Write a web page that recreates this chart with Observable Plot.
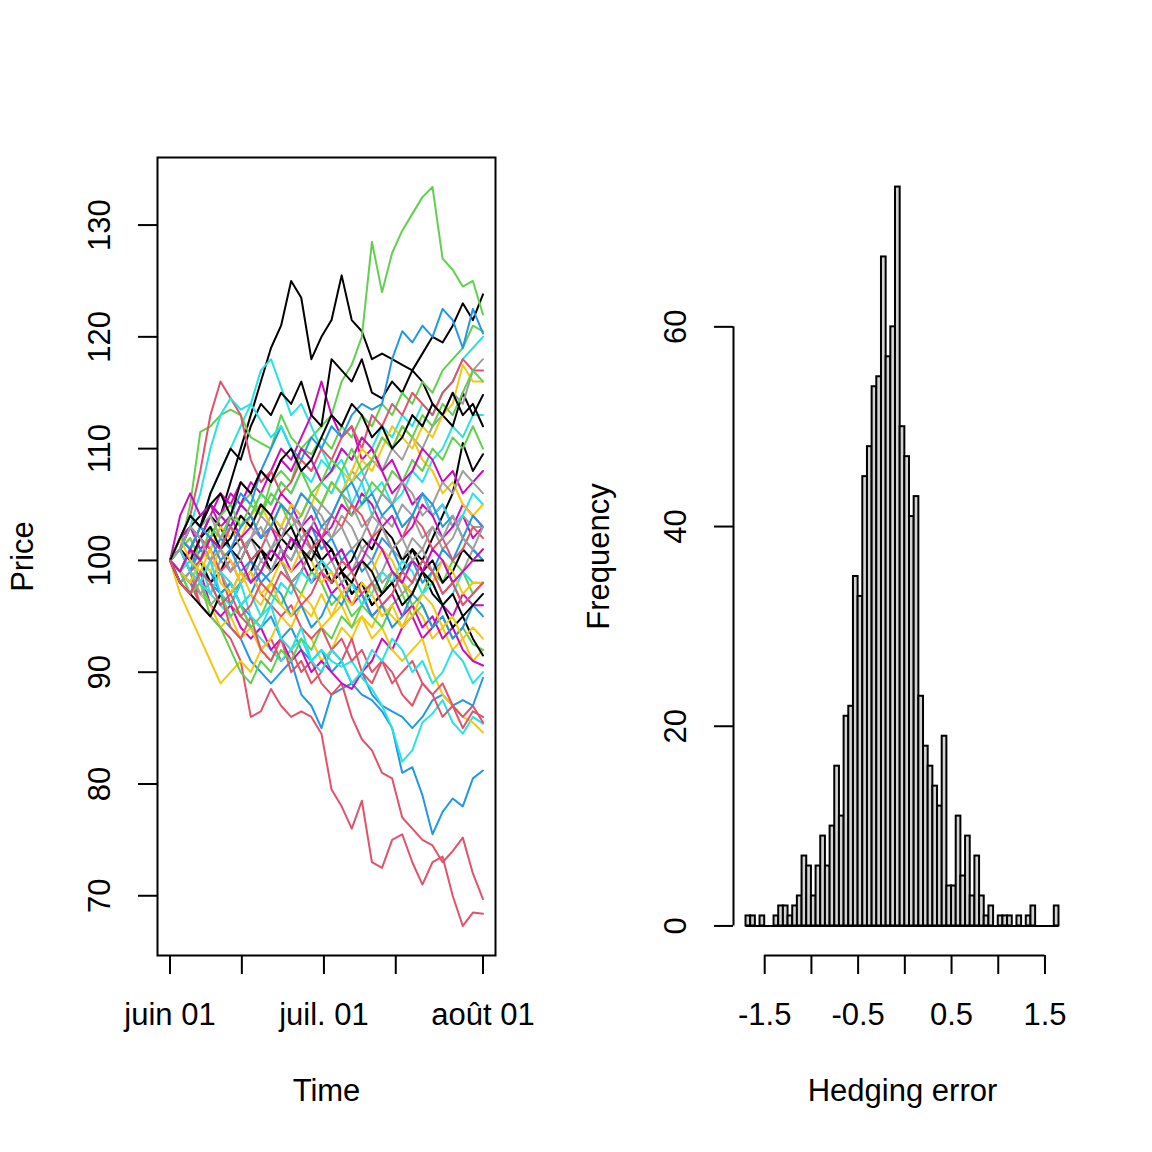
<!DOCTYPE html>
<html><head><meta charset="utf-8">
<script src="https://cdn.jsdelivr.net/npm/d3@7"></script>
<script src="https://cdn.jsdelivr.net/npm/@observablehq/plot@0.6"></script>
<style>
html,body{margin:0;padding:0;background:#fff;}
#wrap{display:flex;width:1152px;height:1152px;background:#fff;}
</style></head><body><div id="wrap"></div>
<script>
// ---------- Left panel data: simulated price paths ----------
const palette = ["black", "#DF536B", "#61D04F", "#2297E6", "#28E2E5", "#CD0BBC", "#F5C710", "#9E9E9E"];
const startDate = "2023-06-01", endDate = "2023-08-01";
const xTickDates = ["2023-06-01", "2023-06-15", "2023-07-01", "2023-07-15", "2023-08-01"];
const xTickLabels = ["juin 01", "", "juil. 01", "", "août 01"];
const priceTicks = [70, 80, 90, 100, 110, 120, 130];

const pathsBlack = [
  [100,102,103,104,105,104,107,110,113,116,119,121,125,123.5,118,120,121.5,125.5,121.5,120.5,118,118.5,118,117.5,117,118.5,120,119.5,121,123,121.5,123.8],
  [100,102,104,103,106,108,110,109,112,114,113,115,114,116,113,112,118,117,116,118,115,114.5,116,115,117,116,114,113,112,115,113,114.8],
  [100,99,101,100,98,99,101,100,102,101,99,100,98,99,101,100,98,99,97,98,96,97,98,99,101,100,102,104,106,110.5,108,109.5],
  [100,101,103,102,104,103,101,102,100,101,99,100,102,101,99,100,98,99,97,98,96,97,99,98,97,99,97,96,94,95,93,91.5],
  [100,98,97,96,95,97,96,98,99,101,100,102,101,103,102,100,101,99,100,102,101,103,102,100,101,99,100,98,99,101,100,100],
  [100,101,100,102,103,101,102,104,103,105,104,102,103,101,100,102,101,99,98,100,99,97,98,96,97,99,98,96,97,95,96,97],
  [100,102,104,103,105,106,104,107,106,108,107,109,110,108,109,111,113,112,114,113,111,112,110,111,113,112,114,113,115,113,114,112]
];
const pathsRed = [
  [100,99,98,96,95,94,93,91,86,86.5,88.5,87,86,86.5,86,84.5,79.5,78,76,78.5,73,72.5,75,75.5,73,71,73,73.5,70,67.3,68.5,68.4],
  [100,99,101,98,97,99,96,95,94,92,93,91,92,90,91,89,88,89,86,84,83,81,80.5,77,76,75,74.5,73,74,75.2,72,69.7],
  [100,98,99,96,95,97,94,93,95,92,91,93,90,91,89,90,92,91,93,90,89,91,90,88,87,89,88,86,87,85,86.5,86],
  [100,102,104,108,113,116,114.5,113,109,107,108,106,107,109,108,110,109,111,112,110,113,112,114,113,115,114,113,115,116,118,117,117],
  [100,101,100,102,101,99,100,98,99,97,96,95,96,94,93,94,92,93,91,92,90,91,89,90,91,89,88,89,87,86,87,85.5],
  [100,101,99,100,102,101,103,102,100,101,103,102,104,103,101,102,104,103,105,104,102,103,101,102,104,103,101,102,100,101,103,102],
  [100,98,97,99,98,96,97,95,96,98,97,99,98,96,97,99,98,100,99,97,98,96,97,99,98,100,99,97,98,96,97,98]
];
const pathsGreen = [
  [100,99,101,100,102,104,103,105,106,104,107,108,107,110,111,112,113,116,117.5,120,128.5,124,127.5,129.5,131,132.5,133.4,127,126,124.5,125,122],
  [100,101,105,111.5,112,113,113.5,113,111,110.5,110,113,111,110,109.5,111,110,112,111,113,112,114,113,115,114,116,115,117,118,119,121,120.5],
  [100,99,97,98,95,94,92,90,89,91,90,92,91,93,92,94,93,95,94,96,95,94,96,97,95,96,94,95,93,94,92.5,92],
  [100,99,97,98,96,97,95,96,94,95,97,96,98,97,99,98,96,97,95,96,98,97,99,98,96,97,99,98,100,99,97,98],
  [100,101,102,100,103,102,104,103,105,104,106,105,103,104,106,105,107,106,104,105,107,106,108,107,109,108,110,109,111,110,112,110],
  [100,102,101,103,102,104,105,103,104,106,105,107,106,108,106,107,109,108,110,108,109,111,110,112,111,113,112,114,113,115,117,116]
];
const pathsBlue = [
  [100,99,98,97,96,95,94,93,91,90,89,90,91,88,87,85,88,88.5,89,88,87.5,86.5,85,81,81.5,79,75.5,77.5,78.7,78,80.5,81.2],
  [100,101,99,100,98,97,98,96,95,94,95,93,94,92,91,92,90,91,89,90,88,87,86.5,86,85,86,87.5,88,87,87.5,87,89.5],
  [100,101,99,102,103,101,104,106,105,108,110,112,110,109,111,110,112,111,113,114,113.5,114,118,120.5,119.5,121,120,122.5,121.5,119,122.5,120.3],
  [100,98,99,101,100,102,101,99,100,98,99,101,100,102,103,101,102,100,101,99,100,102,101,99,100,98,99,101,100,102,101,100],
  [100,99,98,100,99,97,98,96,97,99,98,97,95,96,94,95,97,96,98,97,95,96,94,95,97,96,94,95,93,94,96,95],
  [100,102,101,103,102,100,101,103,104,102,103,105,104,106,105,103,104,106,107,105,106,104,105,103,104,106,105,103,104,102,104,103]
];
const pathsCyan = [
  [100,102,104,103,106,108,110,112,114,117,118,115.5,113,114,112,110,108,109,107,108,106,107,105,106,108,107,109,110,112,111,113,113],
  [100,99,98,100,97,96,95,96,94,93,92,91,92,93,91,92,91,90.5,91,89.5,88.5,87,85,82,83,85.5,86.3,87.5,85.5,84.5,86,85.4],
  [100,99,101,103,102,104,103,105,104,106,105,107,106,108,107,109,108,110,109,111,110,112,111,113,112,114,113,115,116,118,119,120],
  [100,101,103,106,110,113,114.5,113.5,114,112.5,111,112,110,108,109,107,106,108,105,107,104,106,105,103,104,106,104,105,103,104,106,105],
  [100,99,100,98,97,99,98,96,97,95,96,98,97,99,98,100,99,97,98,96,97,99,98,100,99,97,98,96,97,99,98,98],
  [100,101,99,98,100,97,96,98,95,94,96,93,92,94,91,90,92,91,89,90,92,91,93,92,90,91,89,90,92,91,89,90]
];
const pathsMagenta = [
  [100,102,101,103,105,104,106,105,107,106,108,110,109,111,113,116,113,111,112,109,110,108,106,107,105,106,104,105,103,104,102,103],
  [100,98,97,99,96,95,96,94,93,94,92,93,91,92,90,91,90,89,88.5,90,91,93,92,94,95,93,94,96,95,97,96,96],
  [100,102,103,101,102,104,103,105,104,102,103,101,99,100,98,99,97,98,96,97,95,96,97,95,96,94,95,93,94,92,91,90.6],
  [100,104,106,104,105,103,104,102,103,105,104,106,105,103,104,102,103,105,104,106,105,103,104,102,103,105,104,102,103,105,104,103],
  [100,101,103,102,104,106,105,107,106,108,107,109,108,110,109,107,108,110,109,111,110,108,109,107,108,110,109,107,108,106,107,108],
  [100,99,101,100,102,101,99,100,98,99,101,100,102,101,103,102,100,101,99,100,102,101,99,98,100,99,101,100,98,99,100,101]
];
const pathsYellow = [
  [100,97,95,93,91,89,90,91,90,92,91,93,92,94,93,91,92,94,93,95,94,96,95,94,96,95,93,94,92,93,91,92],
  [100,98,99,97,96,94,95,93,94,92,93,95,94,96,95,97,95,96,94,95,93,94,92,91,92,93,90,88,87,86,85.5,84.6],
  [100,99,101,100,102,101,103,102,104,105,103,105,104,106,105,107,106,108,107,109,108,110,112,111,110,112,111,113,114,117.5,116,116],
  [100,101,102,100,101,103,102,104,103,105,104,103,105,104,106,105,107,106,108,110,109,111,110,112,111,109,108,106,107,105,104,105],
  [100,99,98,100,99,101,100,98,99,97,98,100,99,101,100,98,99,97,98,100,99,101,100,98,97,99,98,100,99,97,98,98],
  [100,102,100,99,101,98,97,99,97,96,98,96,95,97,96,94,95,97,96,98,97,95,96,94,95,97,96,94,95,93,94,93]
];
const pathsGray = [
  [100,99,101,100,98,100,99,101,102,100,101,103,102,100,101,103,102,104,103,101,102,104,103,105,104,102,103,101,102,104,103,103],
  [100,101,100,102,101,103,102,104,103,102,104,103,105,104,106,105,107,106,108,107,109,108,110,109,111,110,112,113,115,114,117,118],
  [100,101,99,98,100,99,97,98,100,99,101,100,98,99,101,102,100,101,99,100,98,99,101,100,102,101,99,100,98,99,101,100],
  [100,98,99,97,98,96,97,99,98,100,99,101,100,102,101,99,100,98,99,101,100,98,99,97,98,100,99,97,98,96,97,98],
  [100,102,101,103,104,102,103,101,102,104,103,105,104,102,103,105,104,106,105,103,104,106,105,107,106,104,105,107,106,108,107,106],
  [100,101,103,102,100,101,99,100,102,103,101,102,104,103,105,104,102,103,101,102,104,103,101,102,100,101,103,102,104,102,101,103]
];

// ---------- Right panel data: histogram of hedging errors ----------
const breakStart = -1.7, binWidth = 0.05;
const counts = [1,1,0,1,0,0,1,2,2,1,2,3,7,6,3,6,9,6,
  10,16,11,21,22,35,33,45,48,54,55,67,57,60,74,50,47,41,43,23,18,16,14,12,19,
  4,4,11,5,9,3,7,3,1,2,0,1,1,1,0,1,0,1,2,0,0,0,0,2];
const errTicks = [-1.5, -1, -0.5, 0, 0.5, 1, 1.5];
const errTickLabels = ["-1.5", "", "-0.5", "", "0.5", "", "1.5"];
const freqTicks = [0, 20, 40, 60];

// ---------- Build ----------
const expand = (lo, hi) => [lo - 0.04 * (hi - lo), hi + 0.04 * (hi - lo)];
const groups = [pathsBlack, pathsRed, pathsGreen, pathsBlue, pathsCyan, pathsMagenta, pathsYellow, pathsGray];
const t0 = new Date(startDate), t1 = new Date(endDate);
const rows = [];
const maxMembers = d3.max(groups, g => g.length);
for (let j = 0; j < maxMembers; j++) {
  for (let c = 0; c < groups.length; c++) {
    const p = groups[c][j];
    if (!p) continue;
    const n = p.length;
    p.forEach((v, i) => rows.push({t: new Date(+t0 + i * (t1 - t0) / (n - 1)), price: v, id: j * 8 + c, color: palette[c]}));
  }
}
const xDom = expand(+t0, +t1).map(d => new Date(d));
const yDom = expand(d3.min(rows, d => d.price), d3.max(rows, d => d.price));
const xTicks = xTickDates.map(d => new Date(d));
const xLabels = xTicks.map((d, i) => ({d, label: xTickLabels[i]})).filter(d => d.label);

const font = "'Liberation Sans', Arial, Helvetica, sans-serif";
const common = {
  width: 576, height: 1152,
  marginLeft: 157, marginRight: 81, marginTop: 157, marginBottom: 197,
  style: {fontFamily: font, fontSize: "31px", background: "white", color: "black", overflow: "visible"}
};
const bottomText = {frameAnchor: "bottom", textAnchor: "middle", lineAnchor: "middle", fill: "black"};
const leftText = {frameAnchor: "left", textAnchor: "middle", lineAnchor: "middle", rotate: -90, fill: "black"};

const left = Plot.plot({
  ...common,
  x: {type: "utc", domain: xDom},
  y: {domain: yDom},
  color: {type: "identity"},
  marks: [
    Plot.line(rows, {x: "t", y: "price", z: "id", stroke: "color", strokeWidth: 2}),
    Plot.frame({stroke: "black", strokeWidth: 2}),
    Plot.axisX({ticks: xTicks, tickSize: 19, tickFormat: () => "", strokeWidth: 2, label: null}),
    Plot.text(xLabels, {...bottomText, x: "d", text: "label", dy: 60}),
    Plot.axisY({ticks: priceTicks, tickSize: 19, tickFormat: () => "", strokeWidth: 2, label: null}),
    Plot.text(priceTicks, {...leftText, y: d => d, text: d => String(d), dx: -57}),
    Plot.text(["Time"], {...bottomText, text: d => d, dy: 136}),
    Plot.text(["Price"], {...leftText, text: d => d, dx: -134})
  ]
});

const bins = counts.map((n, i) => ({
  x1: +(breakStart + i * binWidth).toFixed(4),
  x2: +(breakStart + (i + 1) * binWidth).toFixed(4),
  n
}));
const xDom2 = expand(bins[0].x1, bins[bins.length - 1].x2);
const yDom2 = expand(0, d3.max(counts));
const errLabels = errTicks.map((d, i) => ({d, label: errTickLabels[i]})).filter(d => d.label);

const right = Plot.plot({
  ...common,
  x: {domain: xDom2},
  y: {domain: yDom2},
  marks: [
    Plot.rectY(bins, {x1: "x1", x2: "x2", y1: 0, y2: "n", fill: "#D3D3D3", stroke: "black", strokeWidth: 2}),
    Plot.ruleY([0], {x1: bins[0].x1, x2: bins[bins.length - 1].x2, stroke: "black", strokeWidth: 2}),
    Plot.ruleY([yDom2[0]], {x1: errTicks[0], x2: errTicks[errTicks.length - 1], stroke: "black", strokeWidth: 2}),
    Plot.ruleX([xDom2[0]], {y1: freqTicks[0], y2: freqTicks[freqTicks.length - 1], stroke: "black", strokeWidth: 2}),
    Plot.axisX({ticks: errTicks, tickSize: 19, tickFormat: () => "", strokeWidth: 2, label: null}),
    Plot.text(errLabels, {...bottomText, x: "d", text: "label", dy: 60}),
    Plot.axisY({ticks: freqTicks, tickSize: 19, tickFormat: () => "", strokeWidth: 2, label: null}),
    Plot.text(freqTicks, {...leftText, y: d => d, text: d => String(d), dx: -57}),
    Plot.text(["Hedging error"], {...bottomText, text: d => d, dy: 136}),
    Plot.text(["Frequency"], {...leftText, text: d => d, dx: -134})
  ]
});

const wrap = document.getElementById("wrap");
wrap.appendChild(left);
wrap.appendChild(right);
</script>
</body></html>
